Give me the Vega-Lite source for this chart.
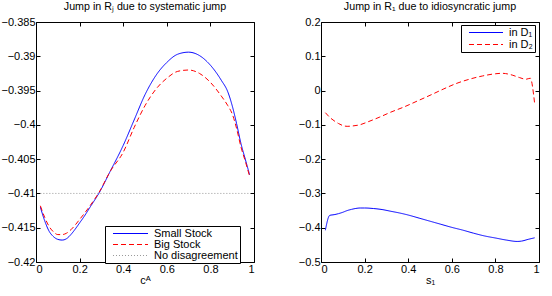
{
  "$schema": "https://vega.github.io/schema/vega-lite/v6.json",
  "padding": {"left": 0, "top": 0, "right": 5, "bottom": 0},
  "background": "white",
  "config": {
    "font": "Liberation Sans",
    "view": {"stroke": "black", "strokeWidth": 1},
    "axis": {
      "grid": false, "domain": false, "ticks": true, "tickSize": -4, "tickColor": "black",
      "labelFont": "Liberation Sans", "labelFontSize": 11, "labelColor": "black",
      "titleFont": "Liberation Sans", "titleFontSize": 11, "titleFontWeight": "normal", "titleColor": "black",
      "labelPadding": 5, "format": "~g"
    },
    "title": {"font": "Liberation Sans", "fontSize": 10.7, "fontWeight": "normal", "color": "black", "offset": 3},
    "legend": {
      "labelFont": "Liberation Sans", "labelFontSize": 11, "labelColor": "black",
      "symbolStrokeWidth": 1, "strokeColor": "black", "fillColor": "white", "symbolSize": 49
    }
  },
  "resolve": {"scale": {"color": "independent", "strokeDash": "independent"}, "legend": {"color": "independent", "strokeDash": "independent"}},
  "datasets": {
    "sys": [
      {"c": 0.02, "value": -0.4120, "series": "Small Stock"},
      {"c": 0.04, "value": -0.4140, "series": "Small Stock"},
      {"c": 0.06, "value": -0.4155, "series": "Small Stock"},
      {"c": 0.08, "value": -0.4163, "series": "Small Stock"},
      {"c": 0.10, "value": -0.4167, "series": "Small Stock"},
      {"c": 0.12, "value": -0.4168, "series": "Small Stock"},
      {"c": 0.14, "value": -0.4166, "series": "Small Stock"},
      {"c": 0.16, "value": -0.4160, "series": "Small Stock"},
      {"c": 0.18, "value": -0.4152, "series": "Small Stock"},
      {"c": 0.20, "value": -0.4143, "series": "Small Stock"},
      {"c": 0.22, "value": -0.4134, "series": "Small Stock"},
      {"c": 0.25, "value": -0.4119, "series": "Small Stock"},
      {"c": 0.29, "value": -0.4099, "series": "Small Stock"},
      {"c": 0.34, "value": -0.4068, "series": "Small Stock"},
      {"c": 0.40, "value": -0.4030, "series": "Small Stock"},
      {"c": 0.45, "value": -0.3993, "series": "Small Stock"},
      {"c": 0.50, "value": -0.3956, "series": "Small Stock"},
      {"c": 0.55, "value": -0.3928, "series": "Small Stock"},
      {"c": 0.60, "value": -0.3909, "series": "Small Stock"},
      {"c": 0.65, "value": -0.3897, "series": "Small Stock"},
      {"c": 0.70, "value": -0.3894, "series": "Small Stock"},
      {"c": 0.75, "value": -0.3899, "series": "Small Stock"},
      {"c": 0.80, "value": -0.3913, "series": "Small Stock"},
      {"c": 0.85, "value": -0.3935, "series": "Small Stock"},
      {"c": 0.88, "value": -0.3952, "series": "Small Stock"},
      {"c": 0.90, "value": -0.3972, "series": "Small Stock"},
      {"c": 0.92, "value": -0.3998, "series": "Small Stock"},
      {"c": 0.94, "value": -0.4027, "series": "Small Stock"},
      {"c": 0.96, "value": -0.4050, "series": "Small Stock"},
      {"c": 0.98, "value": -0.4073, "series": "Small Stock"},
      {"c": 0.02, "value": -0.4118, "series": "Big Stock"},
      {"c": 0.04, "value": -0.4135, "series": "Big Stock"},
      {"c": 0.06, "value": -0.4148, "series": "Big Stock"},
      {"c": 0.08, "value": -0.4156, "series": "Big Stock"},
      {"c": 0.10, "value": -0.4160, "series": "Big Stock"},
      {"c": 0.12, "value": -0.4160, "series": "Big Stock"},
      {"c": 0.14, "value": -0.4158, "series": "Big Stock"},
      {"c": 0.16, "value": -0.4153, "series": "Big Stock"},
      {"c": 0.18, "value": -0.4146, "series": "Big Stock"},
      {"c": 0.20, "value": -0.4138, "series": "Big Stock"},
      {"c": 0.22, "value": -0.4130, "series": "Big Stock"},
      {"c": 0.25, "value": -0.4117, "series": "Big Stock"},
      {"c": 0.29, "value": -0.4098, "series": "Big Stock"},
      {"c": 0.34, "value": -0.4068, "series": "Big Stock"},
      {"c": 0.40, "value": -0.4040, "series": "Big Stock"},
      {"c": 0.45, "value": -0.4004, "series": "Big Stock"},
      {"c": 0.50, "value": -0.3972, "series": "Big Stock"},
      {"c": 0.55, "value": -0.3948, "series": "Big Stock"},
      {"c": 0.60, "value": -0.3932, "series": "Big Stock"},
      {"c": 0.65, "value": -0.3922, "series": "Big Stock"},
      {"c": 0.70, "value": -0.3920, "series": "Big Stock"},
      {"c": 0.75, "value": -0.3925, "series": "Big Stock"},
      {"c": 0.80, "value": -0.3938, "series": "Big Stock"},
      {"c": 0.85, "value": -0.3958, "series": "Big Stock"},
      {"c": 0.88, "value": -0.3972, "series": "Big Stock"},
      {"c": 0.90, "value": -0.3984, "series": "Big Stock"},
      {"c": 0.92, "value": -0.4005, "series": "Big Stock"},
      {"c": 0.94, "value": -0.4032, "series": "Big Stock"},
      {"c": 0.96, "value": -0.4053, "series": "Big Stock"},
      {"c": 0.98, "value": -0.4075, "series": "Big Stock"},
      {"c": 0.02, "value": -0.41, "series": "No disagreement"},
      {"c": 0.98, "value": -0.41, "series": "No disagreement"}
    ],
    "idio": [
      {"s": 0.02, "value": -0.4075, "series": "in D₁"},
      {"s": 0.04, "value": -0.3640, "series": "in D₁"},
      {"s": 0.06, "value": -0.3620, "series": "in D₁"},
      {"s": 0.08, "value": -0.3590, "series": "in D₁"},
      {"s": 0.10, "value": -0.3550, "series": "in D₁"},
      {"s": 0.12, "value": -0.3500, "series": "in D₁"},
      {"s": 0.14, "value": -0.3465, "series": "in D₁"},
      {"s": 0.16, "value": -0.3438, "series": "in D₁"},
      {"s": 0.18, "value": -0.3425, "series": "in D₁"},
      {"s": 0.20, "value": -0.3425, "series": "in D₁"},
      {"s": 0.24, "value": -0.3440, "series": "in D₁"},
      {"s": 0.28, "value": -0.3470, "series": "in D₁"},
      {"s": 0.32, "value": -0.3520, "series": "in D₁"},
      {"s": 0.36, "value": -0.3570, "series": "in D₁"},
      {"s": 0.40, "value": -0.3630, "series": "in D₁"},
      {"s": 0.45, "value": -0.3720, "series": "in D₁"},
      {"s": 0.50, "value": -0.3810, "series": "in D₁"},
      {"s": 0.55, "value": -0.3900, "series": "in D₁"},
      {"s": 0.60, "value": -0.3990, "series": "in D₁"},
      {"s": 0.65, "value": -0.4070, "series": "in D₁"},
      {"s": 0.70, "value": -0.4160, "series": "in D₁"},
      {"s": 0.75, "value": -0.4240, "series": "in D₁"},
      {"s": 0.80, "value": -0.4300, "series": "in D₁"},
      {"s": 0.85, "value": -0.4360, "series": "in D₁"},
      {"s": 0.90, "value": -0.4400, "series": "in D₁"},
      {"s": 0.92, "value": -0.4390, "series": "in D₁"},
      {"s": 0.95, "value": -0.4340, "series": "in D₁"},
      {"s": 0.98, "value": -0.4295, "series": "in D₁"},
      {"s": 0.02, "value": -0.0645, "series": "in D₂"},
      {"s": 0.04, "value": -0.0780, "series": "in D₂"},
      {"s": 0.06, "value": -0.0880, "series": "in D₂"},
      {"s": 0.08, "value": -0.0960, "series": "in D₂"},
      {"s": 0.10, "value": -0.1020, "series": "in D₂"},
      {"s": 0.12, "value": -0.1043, "series": "in D₂"},
      {"s": 0.14, "value": -0.1035, "series": "in D₂"},
      {"s": 0.18, "value": -0.0995, "series": "in D₂"},
      {"s": 0.22, "value": -0.0900, "series": "in D₂"},
      {"s": 0.27, "value": -0.0771, "series": "in D₂"},
      {"s": 0.32, "value": -0.0630, "series": "in D₂"},
      {"s": 0.38, "value": -0.0480, "series": "in D₂"},
      {"s": 0.44, "value": -0.0310, "series": "in D₂"},
      {"s": 0.50, "value": -0.0138, "series": "in D₂"},
      {"s": 0.56, "value": 0.0040, "series": "in D₂"},
      {"s": 0.62, "value": 0.0205, "series": "in D₂"},
      {"s": 0.68, "value": 0.0330, "series": "in D₂"},
      {"s": 0.74, "value": 0.0425, "series": "in D₂"},
      {"s": 0.80, "value": 0.0490, "series": "in D₂"},
      {"s": 0.83, "value": 0.0504, "series": "in D₂"},
      {"s": 0.86, "value": 0.0480, "series": "in D₂"},
      {"s": 0.88, "value": 0.0446, "series": "in D₂"},
      {"s": 0.91, "value": 0.0380, "series": "in D₂"},
      {"s": 0.94, "value": 0.0330, "series": "in D₂"},
      {"s": 0.96, "value": 0.0360, "series": "in D₂"},
      {"s": 0.98, "value": -0.0380, "series": "in D₂"}
    ]
  },
  "hconcat": [
    {
      "width": 218, "height": 240,
      "title": {"text": "Jump in Rⱼ due to systematic jump"},
      "data": {"name": "sys"},
      "layer": [
        {
          "mark": {"type": "line", "strokeWidth": 1, "interpolate": "monotone"},
          "encoding": {
            "x": {"field": "c", "type": "quantitative", "scale": {"domain": [0, 1]},
                  "axis": {"values": [0, 0.2, 0.4, 0.6, 0.8, 1], "title": "cᴬ", "titlePadding": 0}},
            "y": {"field": "value", "type": "quantitative", "scale": {"domain": [-0.42, -0.385]},
                  "axis": {"values": [-0.42, -0.415, -0.41, -0.405, -0.4, -0.395, -0.39, -0.385], "title": null}},
            "color": {"field": "series", "type": "nominal",
                      "scale": {"domain": ["Small Stock", "Big Stock", "No disagreement"], "range": ["#0000ff", "#ff0000", "#999999"]},
                      "legend": {"title": null, "orient": "none", "legendX": 69, "legendY": 204, "symbolType": "M0.14,0H10.14", "rowPadding": -6, "padding": 2, "labelOffset": 36}},
            "strokeDash": {"field": "series", "type": "nominal",
                      "scale": {"domain": ["Small Stock", "Big Stock", "No disagreement"], "range": [[1, 0], [5, 3], [1, 2]]},
                      "legend": {"title": null, "orient": "none", "legendX": 69, "legendY": 204, "symbolType": "M0.14,0H10.14", "rowPadding": -6, "padding": 2, "labelOffset": 36}}
          }
        },
        {
          "mark": {"type": "line", "opacity": 0},
          "encoding": {
            "x": {"field": "c", "type": "quantitative", "axis": {"orient": "top", "values": [0, 0.2, 0.4, 0.6, 0.8, 1], "labels": false, "title": null}},
            "y": {"field": "value", "type": "quantitative", "axis": {"orient": "right", "values": [-0.42, -0.415, -0.41, -0.405, -0.4, -0.395, -0.39, -0.385], "labels": false, "title": null}}
          }
        }
      ],
      "resolve": {"axis": {"x": "independent", "y": "independent"}}
    },
    {
      "width": 218, "height": 240,
      "title": {"text": "Jump in R₁ due to idiosyncratic jump"},
      "data": {"name": "idio"},
      "layer": [
        {
          "mark": {"type": "line", "strokeWidth": 1, "interpolate": "monotone"},
          "encoding": {
            "x": {"field": "s", "type": "quantitative", "scale": {"domain": [0, 1]},
                  "axis": {"values": [0, 0.2, 0.4, 0.6, 0.8, 1], "title": "s₁", "titlePadding": 0}},
            "y": {"field": "value", "type": "quantitative", "scale": {"domain": [-0.5, 0.2]},
                  "axis": {"values": [-0.5, -0.4, -0.3, -0.2, -0.1, 0, 0.1, 0.2], "title": null}},
            "color": {"field": "series", "type": "nominal",
                      "scale": {"domain": ["in D₁", "in D₂"], "range": ["#0000ff", "#ff0000"]},
                      "legend": {"title": null, "orient": "none", "legendX": 140, "legendY": 3, "symbolType": "M0.14,0H9.86", "rowPadding": 0, "padding": 2, "labelOffset": 35}},
            "strokeDash": {"field": "series", "type": "nominal",
                      "scale": {"domain": ["in D₁", "in D₂"], "range": [[1, 0], [5, 3]]},
                      "legend": {"title": null, "orient": "none", "legendX": 140, "legendY": 3, "symbolType": "M0.14,0H9.86", "rowPadding": 0, "padding": 2, "labelOffset": 35}}
          }
        },
        {
          "mark": {"type": "line", "opacity": 0},
          "encoding": {
            "x": {"field": "s", "type": "quantitative", "axis": {"orient": "top", "values": [0, 0.2, 0.4, 0.6, 0.8, 1], "labels": false, "title": null}},
            "y": {"field": "value", "type": "quantitative", "axis": {"orient": "right", "values": [-0.5, -0.4, -0.3, -0.2, -0.1, 0, 0.1, 0.2], "labels": false, "title": null}}
          }
        }
      ],
      "resolve": {"axis": {"x": "independent", "y": "independent"}}
    }
  ],
  "spacing": 42
}
